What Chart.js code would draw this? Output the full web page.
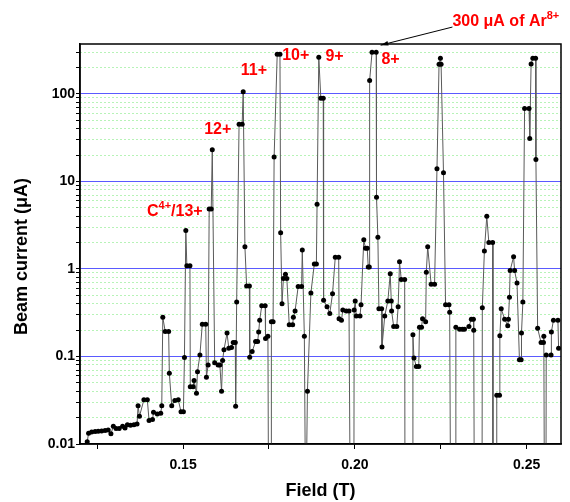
<!DOCTYPE html>
<html>
<head>
<meta charset="utf-8">
<script src="https://cdn.jsdelivr.net/npm/chart.js@4.4.1/dist/chart.umd.min.js"></script>
<style>
  html, body { margin: 0; padding: 0; background: #fff; }
</style>
</head>
<body>
<canvas id="chart" width="570" height="502"></canvas>
<script>
// Magnet field of each scan point (T)
const field = [
  0.1221, 0.1225, 0.1234, 0.1244, 0.1253, 0.1263, 0.1273, 0.1282, 0.1290, 0.1297,
  0.1305, 0.1314, 0.1324, 0.1331, 0.1338, 0.1347, 0.1357, 0.1366, 0.1369, 0.1373,
  0.1386, 0.1396, 0.1401, 0.1411, 0.1414, 0.1425, 0.1435, 0.1438, 0.1441, 0.1448,
  0.1458, 0.1460, 0.1467, 0.1476, 0.1486, 0.1494, 0.1501, 0.1504, 0.1508, 0.1511,
  0.1520, 0.1521, 0.1529, 0.1532, 0.1539, 0.1542, 0.1549, 0.1556, 0.1566, 0.1568,
  0.1573, 0.1576, 0.1582, 0.1585, 0.1592, 0.1602, 0.1607, 0.1612, 0.1615, 0.1619,
  0.1628, 0.1633, 0.1641, 0.1646, 0.1652, 0.1653, 0.1656, 0.1663, 0.1672, 0.1675,
  0.1680, 0.1685, 0.1693, 0.1694, 0.1701, 0.1711, 0.1717, 0.1720, 0.1723, 0.1729,
  0.1739, 0.1740, 0.1747, 0.1749, 0.1756, 0.1757, 0.1762, 0.1765, 0.1774, 0.1782,
  0.1784, 0.1788, 0.1792, 0.1798, 0.1802, 0.1809, 0.1819, 0.1821, 0.1826, 0.1835,
  0.1845, 0.1847, 0.1853, 0.1857, 0.1862, 0.1872, 0.1882, 0.1888, 0.1890, 0.1895,
  0.1901, 0.1908, 0.1909, 0.1919, 0.1927, 0.1935, 0.1943, 0.1953, 0.1954, 0.1961,
  0.1965, 0.1975, 0.1983, 0.1987, 0.1997, 0.1998, 0.2001, 0.2004, 0.2015, 0.2018,
  0.2026, 0.2031, 0.2036, 0.2039, 0.2042, 0.2043, 0.2050, 0.2062, 0.2063, 0.2067,
  0.2070, 0.2078, 0.2079, 0.2087, 0.2096, 0.2103, 0.2106, 0.2107, 0.2113, 0.2122,
  0.2126, 0.2130, 0.2135, 0.2145, 0.2146, 0.2168, 0.2169, 0.2172, 0.2179, 0.2186,
  0.2188, 0.2194, 0.2197, 0.2206, 0.2208, 0.2212, 0.2222, 0.2232, 0.2239, 0.2245,
  0.2249, 0.2251, 0.2258, 0.2264, 0.2274, 0.2276, 0.2279, 0.2293, 0.2294, 0.2305,
  0.2313, 0.2319, 0.2332, 0.2339, 0.2345, 0.2346, 0.2348, 0.2370, 0.2371, 0.2377,
  0.2384, 0.2390, 0.2401, 0.2402, 0.2412, 0.2413, 0.2421, 0.2422, 0.2426, 0.2436,
  0.2445, 0.2447, 0.2450, 0.2452, 0.2462, 0.2465, 0.2472, 0.2479, 0.2484, 0.2485,
  0.2489, 0.2494, 0.2507, 0.2509, 0.2513, 0.2518, 0.2526, 0.2527, 0.2532, 0.2542,
  0.2549, 0.2550, 0.2552, 0.2556, 0.2557, 0.2571, 0.2572, 0.2578, 0.2591, 0.2593
];

// Beam current (uA); 0 means the reading fell below the bottom of the plot
const current = [
  0.0106, 0.0133, 0.0137, 0.0139, 0.014, 0.0141, 0.0143, 0.0145, 0.0131, 0.0159,
  0.015, 0.015, 0.0159, 0.0152, 0.0166, 0.0164, 0.0166, 0.0169, 0.0274, 0.0207,
  0.032, 0.032, 0.0185, 0.019, 0.023, 0.022, 0.0225, 0.0274, 0.28, 0.193,
  0.193, 0.0645, 0.0274, 0.0315, 0.032, 0.0234, 0.0234, 0.0975, 2.75, 1.09,
  1.09, 0.045, 0.045, 0.053, 0.038, 0.067, 0.104, 0.234, 0.234, 0.058,
  0.08, 4.85, 4.85, 23, 0.085, 0.08, 0.08, 0.04, 0.09, 0.119,
  0.185, 0.124, 0.127, 0.144, 0.144, 0.027, 0.42, 45, 45, 106,
  1.8, 0.64, 0.64, 0.098, 0.114, 0.148, 0.148, 0.19, 0.26, 0.38,
  0.38, 0.16, 0.17, 0, 0, 0.25, 0.25, 19, 285, 285,
  2.6, 0.40, 0.78, 0.87, 0.78, 0.23, 0.23, 0.28, 0.33, 0.63,
  0.63, 1.65, 0.17, 0, 0.04, 0.53, 1.14, 1.14, 5.5, 262,
  89, 89, 0.44, 0.37, 0.31, 0.52, 1.36, 1.36, 0.27, 0.26,
  0.34, 0.33, 0.33, 0, 0, 0.34, 0.43, 0.29, 0.29, 0.39,
  2.15, 1.72, 1.72, 1.05, 1.05, 142, 299, 299, 6.6, 2.3,
  0.35, 0.35, 0.128, 0.29, 0.43, 0.88, 0.43, 0.33, 0.22, 0.22,
  0.37, 1.21, 0.76, 0.76, 0, 0, 0.177, 0.096, 0.077, 0.077,
  0.216, 0.216, 0.27, 0.25, 0.92, 1.8, 0.67, 0.67, 14, 218,
  255, 218, 12.6, 0.39, 0.39, 0.32, 0, 0, 0.216, 0.205,
  0.205, 0.205, 0.22, 0.267, 0.267, 0.2, 0, 0, 0.36, 1.6,
  4.0, 2.0, 2.0, 0, 0, 0.036, 0.036, 0.172, 0.35, 0.267,
  0.225, 0.267, 0.475, 0.96, 1.38, 0.96, 0.69, 0.092, 0.092, 0.185,
  0.42, 68, 68, 31, 220, 255, 255, 17.8, 0.21, 0.144,
  0.144, 0.17, 0, 0, 0.104, 0.104, 0.19, 0.26, 0.26, 0.124
];

// axes
const xTicks = [0.125, 0.15, 0.175, 0.2, 0.225, 0.25];
const xTickLabels = ['', '0.15', '', '0.20', '', '0.25'];
const yDecades = [0.01, 0.1, 1, 10, 100];
const yDecadeLabels = ['0.01', '0.1', '1', '10', '100'];

// charge state labels over the peaks
const peakLabels = ['12+', '11+', '10+', '9+', '8+'];
const peakLabelField = [0.1601, 0.1706, 0.1828, 0.1941, 0.2104];
const peakLabelCurrent = [39, 185, 274, 264, 244];

const Y_MIN = 0.01, Y_MAX = 372;
const OFF_SCALE = 0.001; // where the "0" readings are drawn (clipped away)
const FONT = '"Liberation Sans", Arial, sans-serif';

// every 1..9 x decade value on the log axis, for ticks and minor grid
const yTicks = [];
yDecades.forEach(d => {
  for (let n = 1; n <= 9; n++) {
    const v = parseFloat((n * d).toPrecision(3));
    if (v <= Y_MAX) yTicks.push(v);
  }
});

function isDecade(v) {
  return yDecades.some(d => Math.abs(v - d) / d < 1e-6);
}

// draws text made of [string, superscript?] parts
function drawParts(ctx, x, y, parts, align) {
  const big = 'bold 16px ' + FONT, small = 'bold 11px ' + FONT;
  let w = 0;
  parts.forEach(p => { ctx.font = p[1] ? small : big; w += ctx.measureText(p[0]).width; });
  let cx = align === 'center' ? x - w / 2 : x;
  ctx.textAlign = 'left';
  ctx.textBaseline = 'middle';
  parts.forEach(p => {
    ctx.font = p[1] ? small : big;
    ctx.fillText(p[0], cx, p[1] ? y - 6 : y);
    cx += ctx.measureText(p[0]).width;
  });
}

const annotate = {
  id: 'annotate',
  afterDraw(chart) {
    const { ctx, chartArea: a, scales: { x, y } } = chart;
    ctx.save();
    // closed frame
    ctx.strokeStyle = '#000';
    ctx.lineWidth = 1.5;
    ctx.strokeRect(a.left, a.top, a.right - a.left, a.bottom - a.top);

    ctx.fillStyle = '#ff0000';
    peakLabels.forEach((t, i) => {
      drawParts(ctx, x.getPixelForValue(peakLabelField[i]), y.getPixelForValue(peakLabelCurrent[i]), [[t, false]], 'center');
    });
    drawParts(ctx, x.getPixelForValue(0.1395), y.getPixelForValue(4.49),
      [['C', false], ['4+', true], ['/13+', false]], 'left');
    drawParts(ctx, x.getPixelForValue(0.2284), y.getPixelForValue(662),
      [['300 \u03bcA of Ar', false], ['8+', true]], 'left');

    // arrow to the 8+ peak
    const x0 = x.getPixelForValue(0.2284), y0 = y.getPixelForValue(581);
    const x1 = x.getPixelForValue(0.2075), y1 = y.getPixelForValue(361);
    const ang = Math.atan2(y1 - y0, x1 - x0);
    ctx.strokeStyle = '#000';
    ctx.lineWidth = 1;
    ctx.beginPath();
    ctx.moveTo(x0, y0);
    ctx.lineTo(x1, y1);
    ctx.stroke();
    ctx.fillStyle = '#000';
    ctx.beginPath();
    ctx.moveTo(x1, y1);
    ctx.lineTo(x1 - 8 * Math.cos(ang - 0.3), y1 - 8 * Math.sin(ang - 0.3));
    ctx.lineTo(x1 - 8 * Math.cos(ang + 0.3), y1 - 8 * Math.sin(ang + 0.3));
    ctx.closePath();
    ctx.fill();
    ctx.restore();
  }
};

const points = field.map((f, i) => ({ x: f, y: current[i] > 0 ? current[i] : OFF_SCALE }));

new Chart(document.getElementById('chart'), {
  type: 'line',
  data: {
    datasets: [{
      data: points,
      borderColor: '#5a5a5a',
      borderWidth: 1,
      tension: 0,
      pointRadius: 2.5,
      pointHoverRadius: 2.5,
      pointBorderWidth: 0,
      pointBackgroundColor: '#000'
    }]
  },
  options: {
    responsive: false,
    animation: false,
    events: [],
    layout: { padding: { top: 44, right: 9, left: 0, bottom: 0 } },
    plugins: { legend: { display: false }, tooltip: { enabled: false } },
    scales: {
      x: {
        type: 'linear',
        min: 0.12,
        max: 0.26,
        afterBuildTicks: s => { s.ticks = xTicks.map(v => ({ value: v })); },
        afterFit: s => { s.height = 58; },
        ticks: {
          autoSkip: false,
          maxRotation: 0,
          padding: 8,
          color: '#000',
          font: { family: FONT, size: 14, weight: 'bold' },
          callback: (v, i) => xTickLabels[i]
        },
        grid: { drawOnChartArea: false, tickLength: 5, tickColor: '#000', tickWidth: 1 },
        border: { color: '#000', width: 1.5 },
        title: {
          display: true,
          text: 'Field (T)',
          color: '#000',
          padding: { top: 0, bottom: 0 },
          font: { family: FONT, size: 18, weight: 'bold' }
        }
      },
      y: {
        type: 'logarithmic',
        min: Y_MIN,
        max: Y_MAX,
        afterBuildTicks: s => { s.ticks = yTicks.map(v => ({ value: v })); },
        afterFit: s => { s.width = 80; },
        ticks: {
          autoSkip: false,
          padding: 1,
          color: '#000',
          font: { family: FONT, size: 14, weight: 'bold' },
          callback: v => {
            const k = yDecades.findIndex(d => Math.abs(v - d) / d < 1e-6);
            return k >= 0 ? yDecadeLabels[k] : '';
          }
        },
        grid: {
          tickLength: 4,
          tickColor: '#000',
          lineWidth: 1,
          color: c => {
            const v = c.tick ? c.tick.value : 0;
            if (v <= Y_MIN * 1.0001) return 'rgba(0,0,0,0)';
            return isDecade(v) ? 'rgb(90,90,255)' : 'rgb(110,230,110)';
          }
        },
        border: {
          color: '#000',
          width: 1.5,
          dash: c => (c.tick && isDecade(c.tick.value) ? [] : [1, 3])
        },
        title: {
          display: true,
          // trailing spaces push the centred title a little lower, as in the original
          text: 'Beam current (\u03bcA)     ',
          color: '#000',
          padding: { top: 11, bottom: 0 },
          font: { family: FONT, size: 18, weight: 'bold' }
        }
      }
    }
  },
  plugins: [annotate]
});
</script>
</body>
</html>
